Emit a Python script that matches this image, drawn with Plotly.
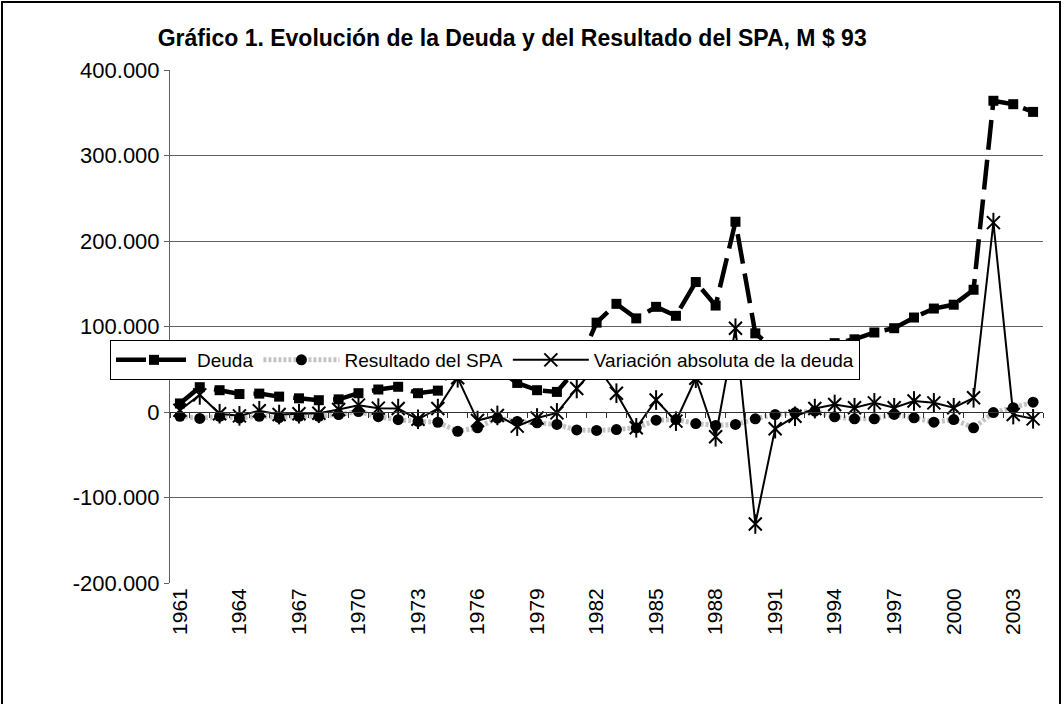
import plotly.graph_objects as go

years = [str(y) for y in range(1961, 2005)]

deuda = [10000, 29000, 25500, 21000, 21500, 18000, 16000, 13800, 14800, 22000,
         26300, 29500, 22000, 25000, 65000, 55000, 50500, 34000, 25500, 23500,
         51000, 104500, 126500, 109500, 123000, 112500, 152000, 124500, 222500, 92000,
         72500, 67500, 71500, 80500, 85000, 93000, 98000, 110500, 121000, 125500,
         143000, 364000, 360000, 351000]

resultado = [-5000, -7500, -5000, -7000, -5000, -6500, -5000, -5000, -3000, 500,
             -5500, -9000, -11000, -12000, -22500, -18500, -7000, -11000, -12700, -14600,
             -21000, -21500, -20500, -18500, -9600, -8800, -13500, -15800, -14600, -8000,
             -3000, -1000, 1000, -5600, -8000, -8000, -2900, -6800, -11900, -8800,
             -18500, -700, 5000, 11500]

variacion = [2000, 20000, -2000, -4500, 1500, -3000, -2000, -1500, 3000, 8000,
             4500, 4000, -8500, 4000, 40000, -10000, -4000, -16500, -7000, -1000,
             27500, 53500, 22000, -18500, 14000, -10700, 39500, -29000, 98000, -131000,
             -19500, -5000, 4000, 8800, 5000, 10700, 5000, 12900, 10700, 5000,
             16600, 221500, -3000, -8000]

y_tickvals = [-200000, -100000, 0, 100000, 200000, 300000, 400000]
y_ticktext = ["-200.000", "-100.000", "0", "100.000", "200.000", "300.000", "400.000"]
x_tickvals = years[::3]

title_text = "Gráfico 1. Evolución de la Deuda y del Resultado del SPA, M $ 93"
FONT = "Arial, 'Liberation Sans', sans-serif"

fig = go.Figure()
fig.add_trace(go.Scatter(
    x=years, y=deuda, name="Deuda", mode="lines+markers",
    line=dict(color="black", width=4.5, dash="30px,10px"),
    marker=dict(symbol="square", size=10, color="black"),
))
fig.add_trace(go.Scatter(
    x=years, y=resultado, name="Resultado del SPA", mode="lines+markers",
    line=dict(color="#C4C4C4", width=5, dash="3px,2px"),
    marker=dict(symbol="circle", size=11, color="black"),
))
fig.add_trace(go.Scatter(
    x=years, y=variacion, name="Variación absoluta de la deuda", mode="lines+markers",
    line=dict(color="black", width=2),
    marker=dict(symbol="x-thin-open", size=13, color="black", line=dict(width=2, color="black")),
))
fig.add_trace(go.Scatter(
    x=years, y=variacion, mode="markers", showlegend=False, hoverinfo="skip",
    marker=dict(symbol="line-ns-open", size=14, color="black", line=dict(width=2, color="black")),
))
# empty trace to activate the axis drawn across zero
fig.add_trace(go.Scatter(x=[], y=[], xaxis="x2", yaxis="y", showlegend=False))

fig.update_layout(
    width=1064, height=704,
    margin=dict(l=170, r=21, t=70, b=121),
    paper_bgcolor="white", plot_bgcolor="white",
    font=dict(family=FONT, size=20, color="black"),
    title=dict(text="<b>" + title_text + "</b>", x=0.392, xref="paper", xanchor="center",
               y=1 - 38 / 704, yanchor="middle", font=dict(family=FONT, size=23, color="black")),
    showlegend=True,
    legend=dict(orientation="h", x=(485 - 170) / 873, y=0.4737, xanchor="center", yanchor="top",
                bgcolor="white", bordercolor="black", borderwidth=1,
                font=dict(family=FONT, size=19, color="black"), itemwidth=76,
                tracegroupgap=0),
    xaxis=dict(type="category", categoryorder="array", categoryarray=years,
               range=[-0.5, 43.5], tickmode="array", tickvals=x_tickvals,
               tickangle=-90, showgrid=False, showline=False, ticks="", zeroline=False,
               tickfont=dict(family=FONT, size=21, color="black"), anchor="y"),
    xaxis2=dict(overlaying="x", type="linear", range=[-0.5, 43.5], anchor="free",
                position=1 / 3, showline=True, linecolor="#303030", linewidth=1,
                ticks="outside", ticklen=5, tickcolor="#303030", tickmode="linear",
                tick0=-0.5, dtick=1, showticklabels=False, showgrid=False, zeroline=False),
    yaxis=dict(range=[-200000, 400000], tickmode="array", tickvals=y_tickvals,
               ticktext=y_ticktext, showgrid=True, gridcolor="#606060", gridwidth=1,
               showline=True, linecolor="#606060", linewidth=1, ticks="outside",
               ticklen=5, tickcolor="#606060", zeroline=False,
               tickfont=dict(family=FONT, size=22, color="black")),
    shapes=[dict(type="rect", xref="paper", yref="paper",
                 x0=(2 - 170) / 873, x1=(1060 - 170) / 873,
                 y0=(583 - 760) / 513, y1=(583 - 2) / 513,
                 line=dict(color="black", width=2), fillcolor="rgba(0,0,0,0)", layer="below")],
)

fig.write_html("out.html", config={"displayModeBar": False},
               post_script="document.body.style.margin='0';")
